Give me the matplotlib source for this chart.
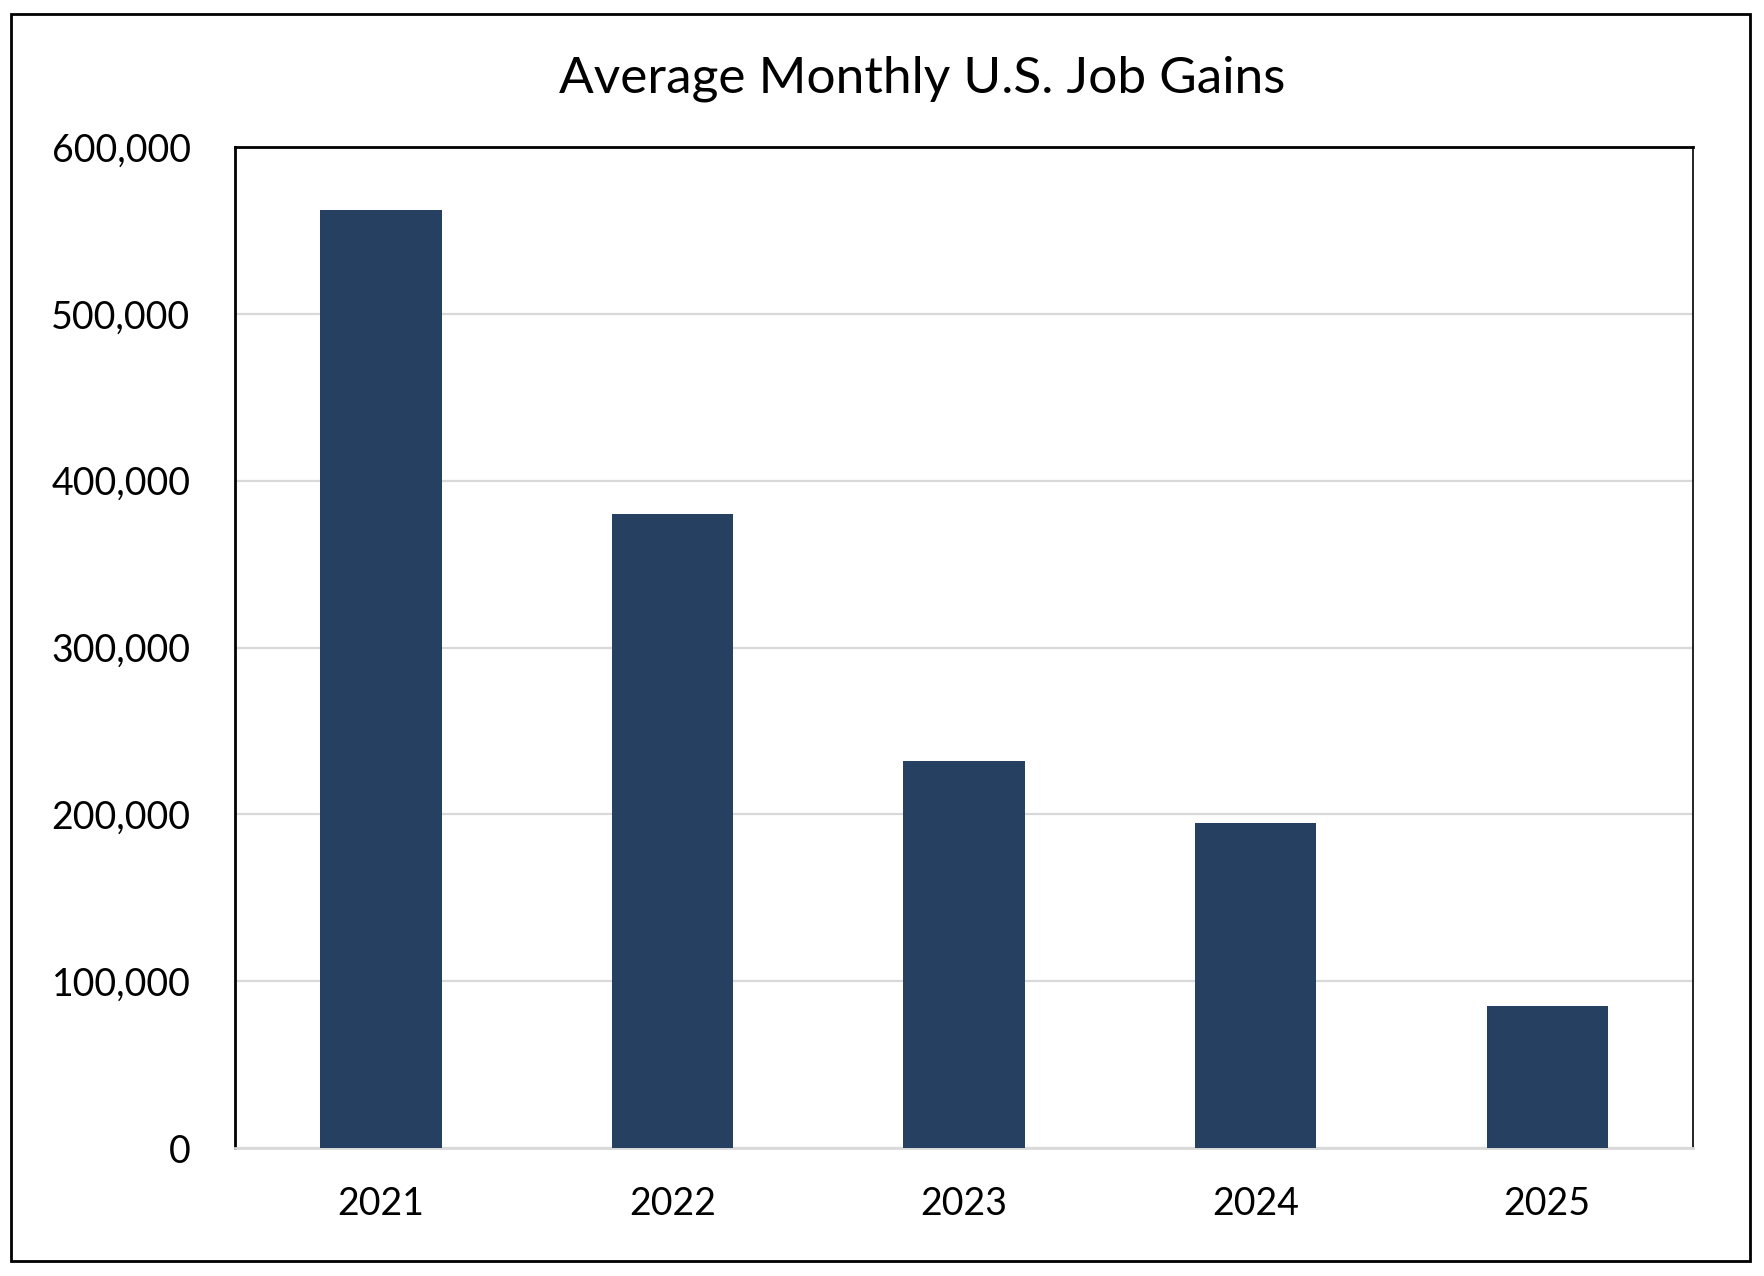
import matplotlib
matplotlib.use("Agg")
import matplotlib.pyplot as plt
from matplotlib.ticker import FuncFormatter, MultipleLocator
from matplotlib.patches import Rectangle

years = ["2021", "2022", "2023", "2024", "2025"]
job_gains = [562000, 380000, 232000, 195000, 85000]
title = "Average Monthly U.S. Job Gains"

plt.rcParams['font.family'] = ['Lato', 'DejaVu Sans']

fig = plt.figure(figsize=(8.82, 6.38), dpi=200)
ax = fig.add_axes([0.1332, 0.1003, 0.8266, 0.7845])

x = list(range(len(years)))
ax.bar(x, job_gains, width=0.4167, color="#264061", zorder=3)
ax.set_xlim(-0.5, len(years) - 0.5)
ax.set_ylim(0, 600000)
ax.yaxis.set_major_locator(MultipleLocator(100000))
ax.yaxis.set_major_formatter(FuncFormatter(lambda v, p: f"{int(v):,}"))
ax.set_xticks(x)
ax.set_xticklabels(years)
ax.grid(axis="y", color="#D9D9D9", linewidth=0.8, zorder=0)
ax.tick_params(axis="both", length=0, labelsize=13.5, colors="black")
ax.tick_params(axis="y", pad=16)
ax.tick_params(axis="x", pad=13.5)
for s in ["top", "left", "right"]:
    ax.spines[s].set_color("black")
ax.spines["top"].set_linewidth(1.0)
ax.spines["left"].set_linewidth(1.0)
ax.spines["right"].set_linewidth(0.6)
ax.spines["bottom"].set_color("#D9D9D9")
ax.spines["bottom"].set_linewidth(1.0)

fig.text(0.5227, 0.938, title, ha="center", va="center", fontsize=18.5, color="black")

fig.patches.append(Rectangle((0.0062, 0.0118), 0.9858, 0.9776, transform=fig.transFigure,
                             fill=False, edgecolor="black", linewidth=1.0, zorder=10))

fig.savefig("out.png", dpi=200, facecolor="white")
